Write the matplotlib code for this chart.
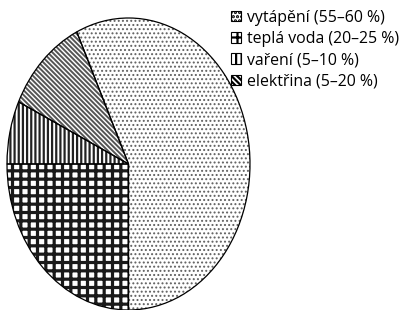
import matplotlib
matplotlib.use('Agg')
import matplotlib.pyplot as plt
from matplotlib.patches import Patch

plt.rcParams['font.family'] = ['Open Sans', 'DejaVu Sans']
plt.rcParams['hatch.linewidth'] = 1.6

# pie order (counter-clockwise from the bottom)
pie_labels = ['vytápění (55–60 %)', 'elektřina (5–20 %)', 'vaření (5–10 %)', 'teplá voda (20–25 %)']
pie_values = [57, 11, 7, 25]
pie_hatches = ['....', '\\' * 7, '||||', '++']
hatch_colors = ['#606060', '#555555', '#222222', '#1a1a1a']
hatch_widths = [0.9, 1.4, 1.6, 2.3]

# legend order
legend_labels = ['vytápění (55–60 %)', 'teplá voda (20–25 %)', 'vaření (5–10 %)', 'elektřina (5–20 %)']

fig = plt.figure(figsize=(4.03, 3.10), dpi=100)
ax = fig.add_axes([7 / 403, 0.0, 243 / 403, 292 / 310])

# hatched fills (hatch colour follows edge colour)
wedges, _ = ax.pie(pie_values, startangle=-90, counterclock=True, radius=1,
                   colors=['white'] * 4,
                   wedgeprops=dict(linewidth=0))
for w, h, c, lw in zip(wedges, pie_hatches, hatch_colors, hatch_widths):
    w.set_hatch(h)
    w.set_edgecolor(c)
    if hasattr(w, 'set_hatch_linewidth'):
        w.set_hatch_linewidth(lw)

# black outlines on top
ax.pie(pie_values, startangle=-90, counterclock=True, radius=1,
       colors=['none'] * 4,
       wedgeprops=dict(linewidth=0.9, edgecolor='black', fill=False))

ax.set_aspect('auto')
ax.set_xlim(-1.0, 1.0)
ax.set_ylim(-1.0, 1.0)

# legend boxes use a denser version of each pattern so it shows in the small box
legend_hatches = {'vytápění (55–60 %)': '....', 'teplá voda (20–25 %)': '++',
                  'vaření (5–10 %)': '|||', 'elektřina (5–20 %)': '\\' * 6}
handles = []
for lab in legend_labels:
    p = Patch(facecolor='white', edgecolor='black', hatch=legend_hatches[lab], linewidth=0.8, label=lab)
    if hasattr(p, 'set_hatch_linewidth'):
        p.set_hatch_linewidth(1.2)
    handles.append(p)

fig.legend(handles=handles, loc='upper left', bbox_to_anchor=(226 / 403, 1 - 5 / 310),
           frameon=False, fontsize=11.4, handlelength=0.65, handleheight=0.65,
           handletextpad=0.4, labelspacing=0.33, borderaxespad=0, borderpad=0.3)

fig.savefig('out.png', dpi=100)
